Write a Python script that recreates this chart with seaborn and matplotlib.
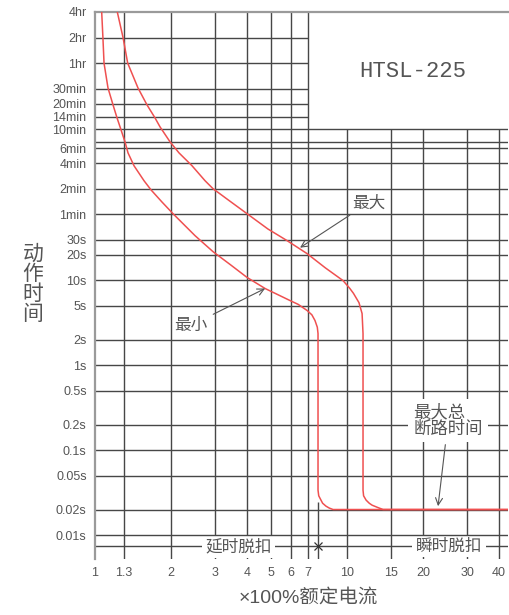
import numpy as np
import pandas as pd
import seaborn as sns
import matplotlib.pyplot as plt

# time-current curve of HTSL-225, x = multiple of rated current, y = trip time (s)
max_current = [1.226, 1.292, 1.348, 1.481, 1.608, 1.730, 1.811, 1.984, 2.154, 2.426, 2.733,
               2.94, 3.40, 4.01, 4.85, 5.78, 6.94, 8.20, 9.64, 10.25, 10.60, 11.15, 11.47,
               11.57, 11.57, 11.63, 11.90, 12.25, 12.57, 13.20, 13.89, 45]
max_time = [14400, 7200, 3600, 1837, 1161, 816, 640, 427, 316, 223, 148.5,
            119.6, 87.0, 60.8, 40.2, 29.3, 20.6, 14.0, 9.91, 8.03, 7.02, 5.45, 4.06,
            2.36, 0.0338, 0.0290, 0.0258, 0.0237, 0.0225, 0.0212, 0.02, 0.02]

min_current = [1.063, 1.075, 1.086, 1.126, 1.179, 1.223, 1.257, 1.315, 1.352, 1.428, 1.565,
               1.668, 1.84, 2.039, 2.494, 2.94, 3.45, 4.01, 4.73, 5.94, 6.40, 6.94, 7.25,
               7.46, 7.62, 7.67, 7.67, 7.72, 7.88, 8.00, 8.25, 8.50, 8.80, 45]
min_time = [14400, 7200, 3600, 1837, 1161, 816, 640, 427, 316, 223, 148.5,
            116, 84.0, 60.8, 33.5, 21.7, 15.2, 10.8, 8.0, 5.77, 5.20, 4.41, 3.92,
            3.36, 2.80, 2.36, 0.0338, 0.0290, 0.0258, 0.0237, 0.0219, 0.0208, 0.02, 0.02]

x_ticks = [1, 1.3, 2, 3, 4, 5, 6, 7, 10, 15, 20, 30, 40]
x_labels = ['1', '1.3', '2', '3', '4', '5', '6', '7', '10', '15', '20', '30', '40']
y_ticks = [14400, 7200, 3600, 1800, 1200, 840, 600, 360, 240, 120, 60, 30, 20, 10, 5,
           2, 1, 0.5, 0.2, 0.1, 0.05, 0.02, 0.01]
y_labels = ['4hr', '2hr', '1hr', '30min', '20min', '14min', '10min', '6min', '4min', '2min',
            '1min', '30s', '20s', '10s', '5s', '2s', '1s', '0.5s', '0.2s', '0.1s', '0.05s',
            '0.02s', '0.01s']
extra_y_line = 420       # unlabeled grid line
trip_line = 0.0074       # baseline of the trip-type labels
split_current = 7.67     # boundary between delayed / instantaneous trip

df = pd.concat([
    pd.DataFrame({'current': max_current, 'time': max_time, 'curve': '最大'}),
    pd.DataFrame({'current': min_current, 'time': min_time, 'curve': '最小'}),
])

sns.set_style('white')
plt.rcParams['font.family'] = ['Liberation Sans', 'Noto Sans CJK SC', 'DejaVu Sans']

fig = plt.figure(figsize=(5.09, 6.15), dpi=100)
ax = fig.add_axes([95 / 509, 56 / 615, 413 / 509, 547 / 615])
ax.set_xscale('log')
ax.set_yscale('log')
xmin, xmax = 1, 43.5
ymin, ymax = 0.00523, 14400
ax.set_xlim(xmin, xmax)
ax.set_ylim(ymin, ymax)

gc = '#474747'
for x in x_ticks[1:]:
    ax.vlines(x, ymin, ymax if x <= 7 else 600, color=gc, lw=1.0, zorder=1)
for y in y_ticks[1:] + [extra_y_line]:
    ax.hlines(y, xmin, 7 if y > 600 else xmax, color=gc, lw=1.0, zorder=2)
ax.hlines(trip_line, xmin, xmax, color=gc, lw=1.0, zorder=1)
ax.vlines(split_current, ymin, 0.0244, color=gc, lw=1.0, zorder=2)

red = '#ef5050'
sns.lineplot(data=df, x='current', y='time', hue='curve', palette={'最大': red, '最小': red},
             estimator=None, sort=False, legend=False, lw=1.1, ax=ax, zorder=4)

ax.set_xticks(x_ticks, x_labels)
ax.set_yticks(y_ticks, y_labels)
ax.minorticks_off()
ax.tick_params(axis='x', length=0, pad=6, labelsize=9, colors='#555555')
ax.tick_params(axis='y', length=0, pad=6, labelsize=9, colors='#555555')
ax.set_xlabel('')
ax.set_ylabel('')
for s in ['top', 'left']:
    ax.spines[s].set_color('#9a9a9a')
    ax.spines[s].set_linewidth(1.6)
ax.spines['right'].set_visible(False)
ax.spines['bottom'].set_visible(False)

txt = '#555555'
ax.text(18.3, 2834, 'HTSL-225', family='Liberation Mono', fontsize=16, color=txt,
        ha='center', va='center')
arrow = dict(arrowstyle='->', color='#555555', lw=0.8, shrinkA=2, shrinkB=0)
ax.annotate('最大', xy=(6.51, 24.2), xytext=(12.2, 81.9), fontsize=12, color=txt,
            ha='center', va='center', arrowprops=arrow, zorder=5)
ax.annotate('最小', xy=(4.73, 8.0), xytext=(2.40, 2.94), fontsize=12, color=txt,
            ha='center', va='center', arrowprops=arrow, zorder=5)
ax.annotate('最大总\n断路时间', xy=(22.96, 0.0219), xytext=(25.2, 0.2246), fontsize=12.5,
            color=txt, ha='center', va='center', multialignment='left', linespacing=1.0,
            arrowprops=arrow, bbox=dict(boxstyle='square,pad=0.3', fc='white', ec='none'),
            zorder=5)
box = dict(boxstyle='square,pad=0.22', fc='white', ec='none')
ax.text(3.71, trip_line, '延时脱扣', fontsize=12, color=txt, ha='center', va='center',
        bbox=box, zorder=1.5)
ax.text(25.3, trip_line, '瞬时脱扣', fontsize=12, color=txt, ha='center', va='center',
        bbox=box, zorder=1.5)
ax.plot([split_current], [trip_line], marker='x', ms=6, mew=0.9, color='#333333', zorder=5)

fig.text(33 / 509, 1 - 284 / 615, '动\n作\n时\n间', fontsize=15, color=txt,
         ha='center', va='center', linespacing=1.05)
fig.text(308 / 509, 1 - 598 / 615, '×100%额定电流', fontsize=14, color=txt,
         ha='center', va='center')

plt.savefig('out.png', dpi=100)
